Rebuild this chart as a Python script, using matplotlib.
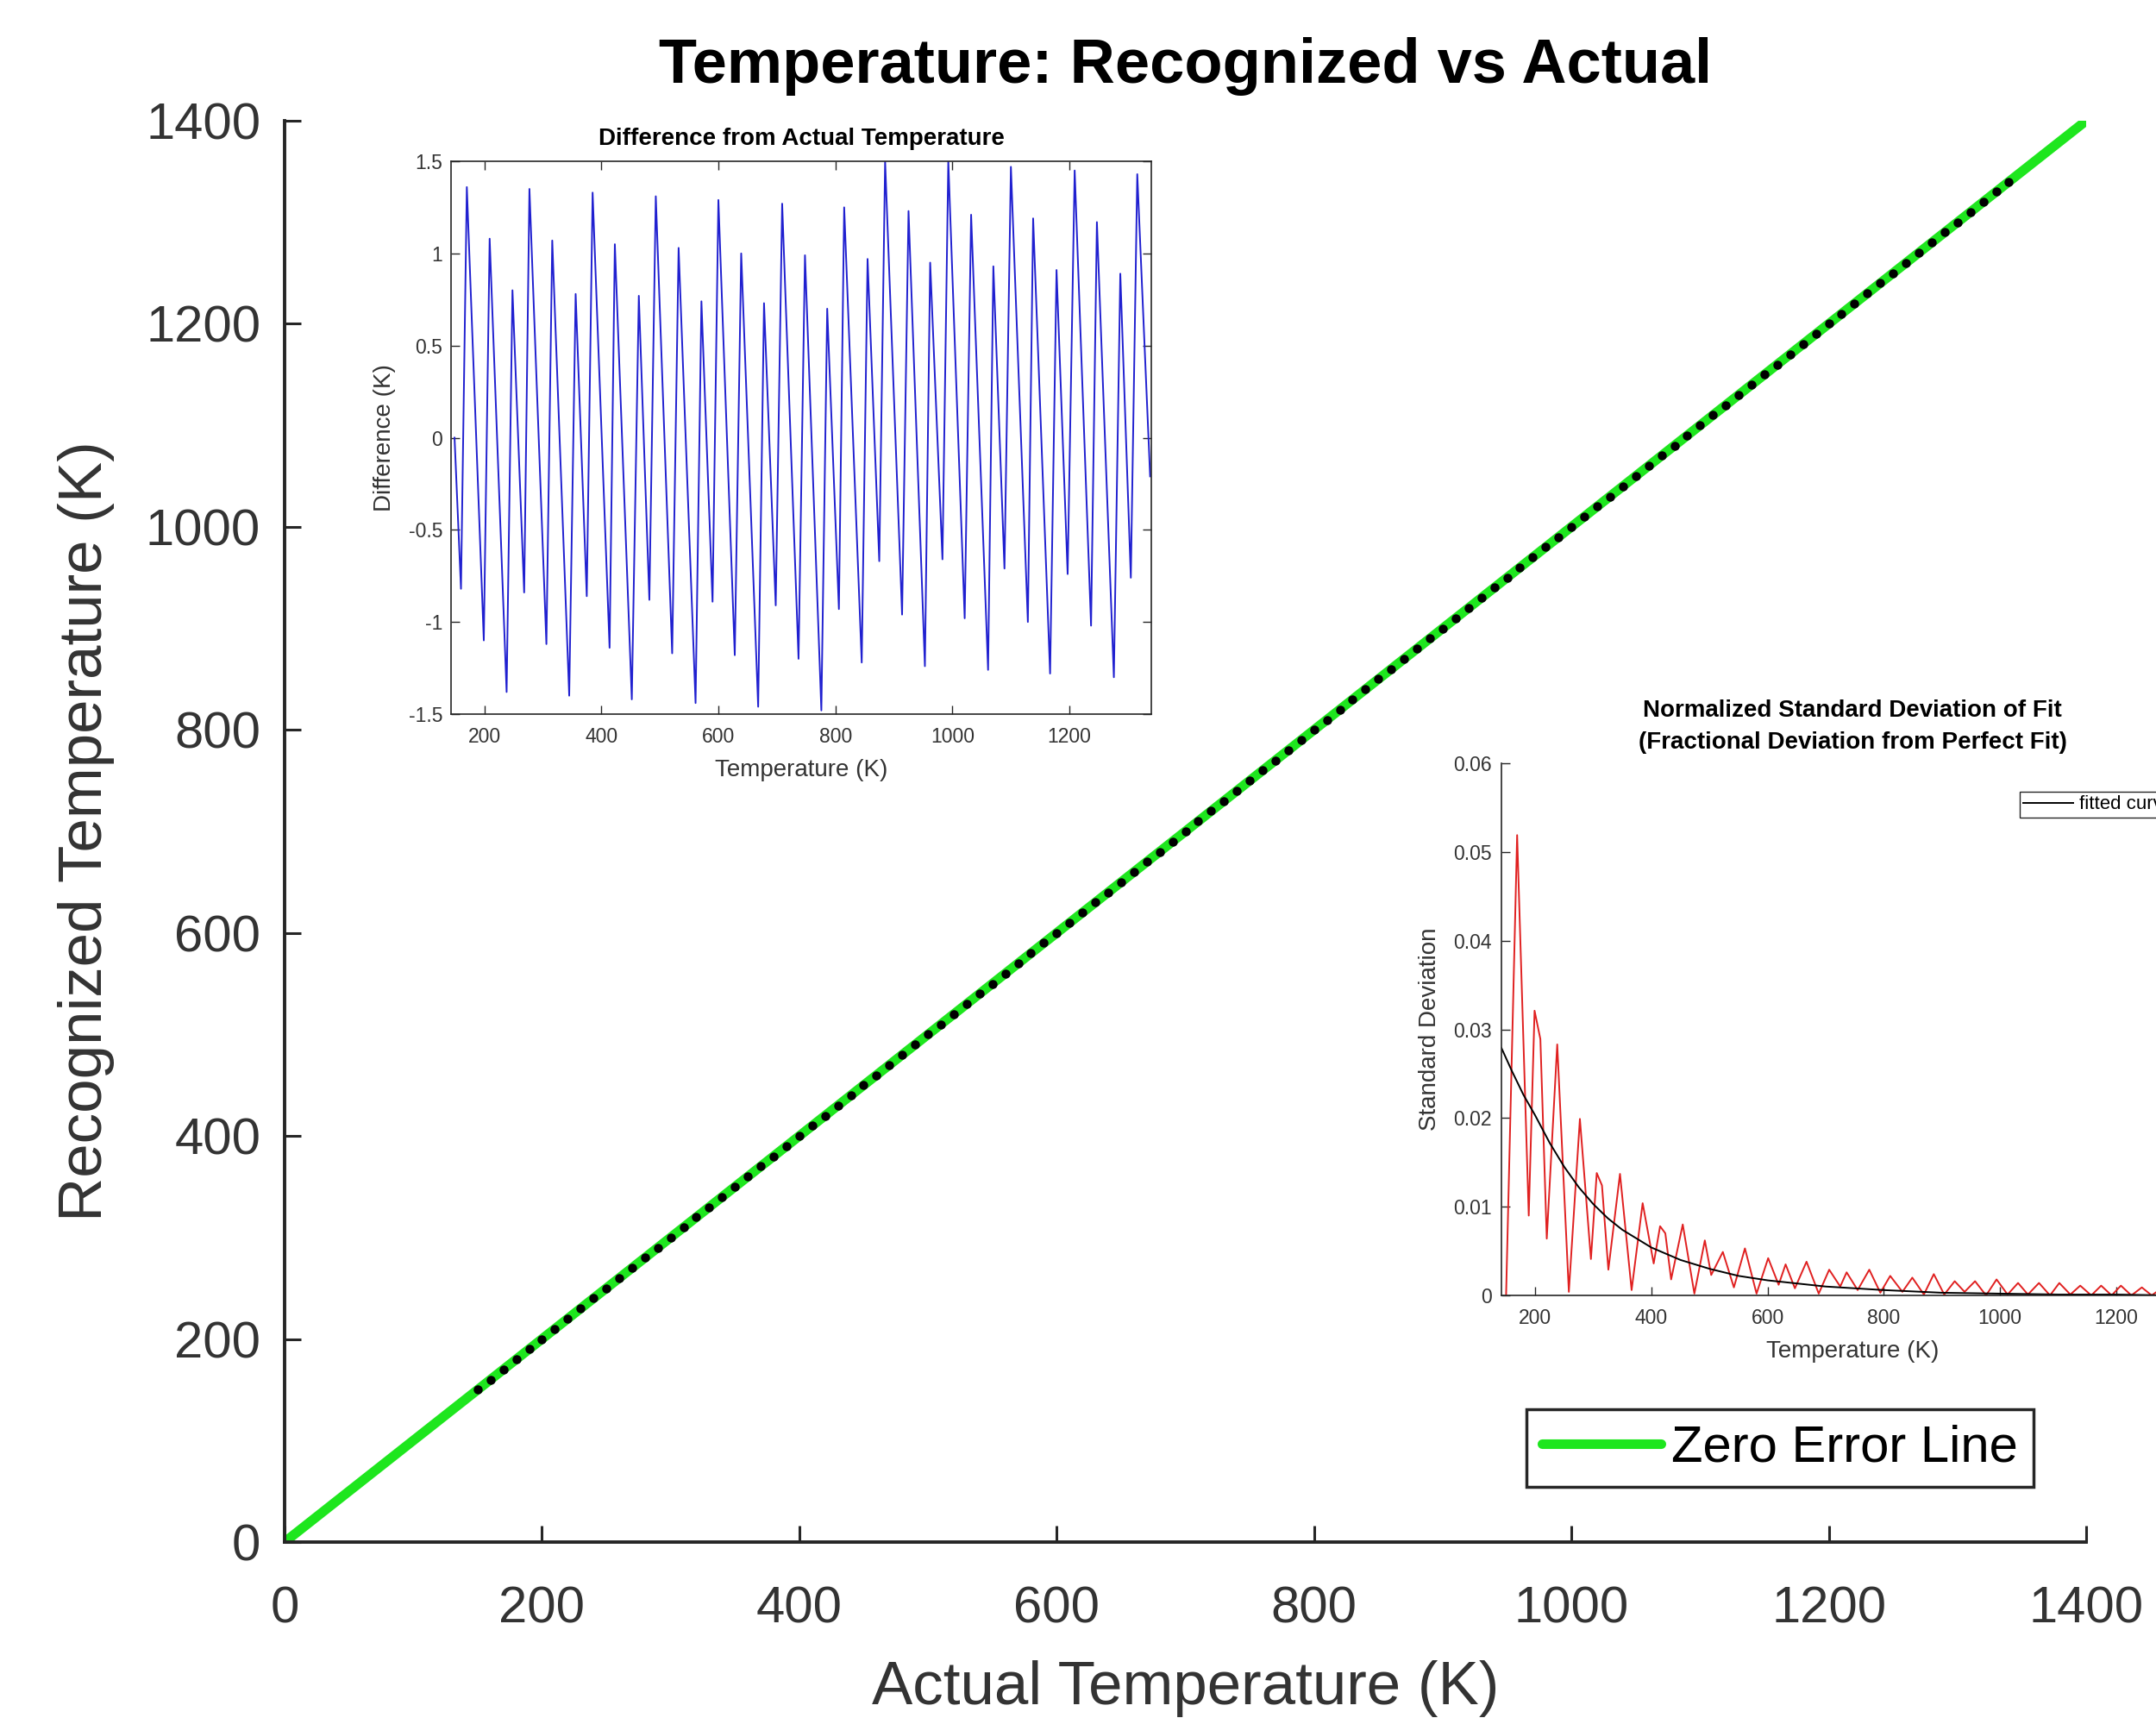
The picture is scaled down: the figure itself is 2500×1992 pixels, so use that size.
import numpy as np
import matplotlib
matplotlib.use('Agg')
import matplotlib.pyplot as plt

plt.rcParams['font.family'] = ['Liberation Sans', 'DejaVu Sans']

# main plot: zero error line and recognized points (10 K steps)
zero_T = [0, 1400]
actual_T = np.arange(150, 1341, 10)
recognized_T = actual_T.copy()   # +-1.5 K offsets invisible at this scale

# inset 1: difference from actual temperature (vertices)
diff_T = [149, 160, 170, 199, 209, 238, 248, 268, 277, 306, 316, 345, 356, 375,
          385, 414, 423, 452, 464, 482, 493, 521, 532, 561, 571, 590, 600, 628,
          639, 668, 678, 698, 709, 737, 748, 776, 786, 806, 815, 845, 855, 875,
          885, 914, 925, 953, 962, 983, 993, 1021, 1032, 1061, 1070, 1089, 1100,
          1129, 1138, 1167, 1178, 1197, 1209, 1237, 1247, 1276, 1287, 1305, 1316, 1338]
diff_K = [0.0, -0.82, 1.36, -1.10, 1.08, -1.38, 0.80, -0.84, 1.35, -1.12, 1.07, -1.40,
          0.78, -0.86, 1.33, -1.14, 1.05, -1.42, 0.77, -0.88, 1.31, -1.17, 1.03, -1.44,
          0.74, -0.89, 1.29, -1.18, 1.00, -1.46, 0.73, -0.91, 1.27, -1.20, 0.99, -1.48,
          0.70, -0.93, 1.25, -1.22, 0.97, -0.67, 1.50, -0.96, 1.23, -1.24, 0.95, -0.66,
          1.50, -0.98, 1.21, -1.26, 0.93, -0.71, 1.47, -1.00, 1.19, -1.28, 0.91, -0.74,
          1.45, -1.02, 1.17, -1.30, 0.89, -0.76, 1.43, -0.21]

# inset 2: normalized standard deviation (red) and fitted curve (black)
std_T = [150, 169, 189, 199, 209, 220, 238, 258, 277, 296, 306, 315, 326, 346, 366,
         385, 404, 415, 424, 434, 454, 474, 492, 503, 523, 542, 561, 581, 601, 619,
         631, 647, 667, 688, 706, 725, 736, 755, 775, 794, 811, 832, 849, 869, 886,
         904, 922, 939, 957, 976, 994, 1013, 1031, 1048, 1067, 1086, 1102, 1121, 1138,
         1157, 1174, 1192, 1208, 1226, 1244, 1261, 1280, 1297, 1315, 1332, 1348]
std_val = [0.0, 0.0519, 0.0090, 0.0321, 0.0289, 0.0064, 0.0283, 0.0004, 0.0199, 0.0041,
           0.0138, 0.0124, 0.0029, 0.0137, 0.0006, 0.0104, 0.0036, 0.0078, 0.0070, 0.0018,
           0.0080, 0.0002, 0.0062, 0.0023, 0.0049, 0.0009, 0.0053, 0.0002, 0.0042, 0.0012,
           0.0035, 0.0008, 0.0038, 0.0002, 0.0029, 0.0010, 0.0026, 0.0006, 0.0029, 0.0003,
           0.0022, 0.0004, 0.0020, 0.0001, 0.0024, 0.0001, 0.0016, 0.0004, 0.0016, 0.0000,
           0.0018, 0.0001, 0.0014, 0.0001, 0.0014, 0.0000, 0.0014, 0.0001, 0.0011, 0.0000,
           0.0011, 0.0000, 0.0011, 0.0000, 0.0009, 0.0000, 0.0009, 0.0000, 0.0008, 0.0001,
           0.0007]
fit_T = [142, 160, 180, 200, 225, 250, 275, 300, 325, 350, 400, 450, 500, 550, 600,
         700, 800, 900, 1000, 1100, 1200, 1300, 1350]
fit_val = [0.0279, 0.0253, 0.0226, 0.0203, 0.0172, 0.0145, 0.0122, 0.0103, 0.0087,
           0.0074, 0.0054, 0.0040, 0.0030, 0.0022, 0.0017, 0.0010, 0.0006, 0.0003,
           0.0002, 0.0001, 0.0001, 0.0000, 0.0000]

axis_gray = '#262626'
label_gray = '#333333'
W, H = 2500, 1992
fig = plt.figure(figsize=(25, 19.92), dpi=100)


def frac(left, top, right, bottom):
    return [left / W, 1 - bottom / H, (right - left) / W, (bottom - top) / H]


# ---------------- main axes ----------------
ax = fig.add_axes(frac(330, 140, 2419, 1788))
ax.plot(zero_T, zero_T, color='#1ee61e', lw=8, solid_capstyle='round',
        label='Zero Error Line', zorder=2)
ax.plot(actual_T, recognized_T, 'o', color='black', ms=7.5, mew=0, zorder=3)
ax.set_xlim(0, 1400)
ax.set_ylim(0, 1400)
ax.set_xticks(range(0, 1401, 200))
ax.set_yticks(range(0, 1401, 200))
for s in ['top', 'right']:
    ax.spines[s].set_visible(False)
for s in ['left', 'bottom']:
    ax.spines[s].set_linewidth(2.8)
    ax.spines[s].set_color(axis_gray)
ax.tick_params(axis='both', direction='in', length=14, width=2.2, color=axis_gray,
               labelcolor=label_gray, labelsize=43)
ax.tick_params(axis='x', pad=36)
ax.tick_params(axis='y', pad=20)
ax.set_xlabel('Actual Temperature (K)', fontsize=51, color=label_gray)
ax.set_ylabel('Recognized Temperature (K)', fontsize=51, color=label_gray)
ax.xaxis.label.set_va('center')
ax.yaxis.label.set_va('center')
ax.xaxis.set_label_coords(0.5, -0.103)
ax.yaxis.set_label_coords(-0.11, 0.5)
ax.set_title('Temperature: Recognized vs Actual', fontsize=52, fontweight='bold',
             y=1.038, va='center', pad=0)
leg = ax.legend(loc='center', bbox_to_anchor=(2064 / W, 1 - 1679 / H),
                bbox_transform=fig.transFigure, fontsize=43, handlelength=2.3,
                handletextpad=0.2, borderpad=0.3, fancybox=False, framealpha=1)
leg.get_frame().set_edgecolor(axis_gray)
leg.get_frame().set_linewidth(2.5)

# ---------------- inset 1: difference ----------------
ax1 = fig.add_axes(frac(523, 187, 1335, 828))
ax1.plot(diff_T, diff_K, color='#2020d0', lw=1.4)
ax1.set_xlim(143, 1340)
ax1.set_ylim(-1.5, 1.5)
ax1.set_xticks(range(200, 1201, 200))
ax1.set_yticks([-1.5, -1, -0.5, 0, 0.5, 1, 1.5])
ax1.set_yticklabels(['-1.5', '-1', '-0.5', '0', '0.5', '1', '1.5'])
for s in ax1.spines.values():
    s.set_linewidth(1.2)
    s.set_color(axis_gray)
ax1.tick_params(axis='both', direction='in', length=7, width=1, color=axis_gray,
                labelcolor=label_gray, labelsize=16.5, top=True, right=True)
ax1.tick_params(axis='x', pad=11)
ax1.tick_params(axis='y', pad=7)
ax1.set_xlabel('Temperature (K)', fontsize=20, color=label_gray)
ax1.set_ylabel('Difference (K)', fontsize=20, color=label_gray)
ax1.xaxis.label.set_va('center')
ax1.yaxis.label.set_va('center')
ax1.xaxis.set_label_coords(0.5, -0.101)
ax1.yaxis.set_label_coords(-0.095, 0.5)
ax1.set_title('Difference from Actual Temperature', fontsize=20, fontweight='bold',
              y=1.041, va='center', pad=0)

# ---------------- inset 2: standard deviation ----------------
ax2 = fig.add_axes(frac(1741, 885, 2555, 1502))
ax2.plot(std_T, std_val, color='#e02020', lw=1.4)
ax2.plot(fit_T, fit_val, color='black', lw=1.4, label='fitted curve')
ax2.set_xlim(142, 1350)
ax2.set_ylim(0, 0.06)
ax2.set_xticks(range(200, 1201, 200))
ax2.set_yticks([0, 0.01, 0.02, 0.03, 0.04, 0.05, 0.06])
ax2.set_yticklabels(['0', '0.01', '0.02', '0.03', '0.04', '0.05', '0.06'])
for s in ['top', 'right']:
    ax2.spines[s].set_visible(False)
for s in ['left', 'bottom']:
    ax2.spines[s].set_linewidth(1.2)
    ax2.spines[s].set_color(axis_gray)
ax2.tick_params(axis='both', direction='in', length=7, width=1, color=axis_gray,
                labelcolor=label_gray, labelsize=16.5)
ax2.tick_params(axis='x', pad=11)
ax2.tick_params(axis='y', pad=8)
ax2.set_xlabel('Temperature (K)', fontsize=20, color=label_gray)
ax2.set_ylabel('Standard Deviation', fontsize=20, color=label_gray)
ax2.xaxis.label.set_va('center')
ax2.yaxis.label.set_va('center')
ax2.xaxis.set_label_coords(0.5, -0.105)
ax2.yaxis.set_label_coords(-0.102, 0.5)
ax2.set_title('Normalized Standard Deviation of Fit\n(Fractional Deviation from Perfect Fit)',
              fontsize=20, fontweight='bold', y=1.069, va='center', linespacing=1.55, pad=0)
leg2 = ax2.legend(loc='upper left', bbox_to_anchor=(2342 / W, 1 - 918 / H),
                  bbox_transform=fig.transFigure, fontsize=16, handlelength=2.6,
                  handletextpad=0.3, borderpad=0.2, borderaxespad=0,
                  fancybox=False, framealpha=1)
leg2.get_frame().set_edgecolor(axis_gray)
leg2.get_frame().set_linewidth(1.0)

fig.savefig('out.png', dpi=100, facecolor='white')
